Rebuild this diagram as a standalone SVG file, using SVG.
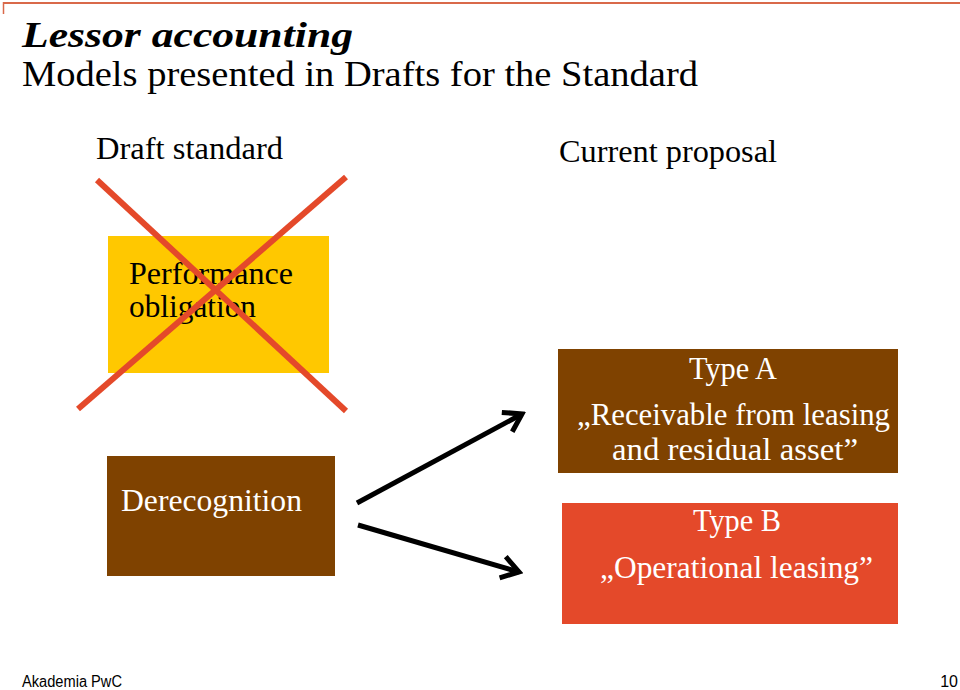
<svg xmlns="http://www.w3.org/2000/svg" width="960" height="690" viewBox="0 0 960 690">
  <defs>
    <style>
      .serif { font-family: "Liberation Serif", "DejaVu Serif", serif; }
      .title { font-size: 35px; font-weight: bold; font-style: italic; fill: #000; }
      .sub { font-size: 35px; fill: #000; }
      .head { font-size: 31px; fill: #000; }
      .lbl { font-size: 31px; }
      .dark { fill: #000; }
      .light { fill: #fff; }
      .foot { font-family: "Liberation Sans", Arial, sans-serif; font-size: 16px; fill: #000; }
      .cross { stroke: #E4492A; stroke-width: 6; stroke-linecap: butt; fill: none; }
      .conn { stroke: #000; stroke-width: 5; fill: none; }
    </style>
    <marker id="chev" markerUnits="userSpaceOnUse" viewBox="-20 -14 24 28" markerWidth="24" markerHeight="28" refX="0" refY="0" orient="auto">
      <path d="M -17,-11 L 0,0 L -17,11" fill="none" stroke="#000" stroke-width="5" stroke-linejoin="miter"/>
    </marker>
  </defs>

  <rect width="960" height="690" fill="#fff"/>

  <!-- top rule -->
  <g id="top-rule">
    <line x1="3" y1="3" x2="960" y2="3" stroke="#D9694A" stroke-width="2"/>
    <line x1="3.5" y1="2" x2="3.5" y2="14" stroke="#D9694A" stroke-width="1.5"/>
  </g>

  <!-- headings -->
  <g id="titles" class="serif">
    <text class="title" x="22" y="47" textLength="331" lengthAdjust="spacingAndGlyphs">Lessor accounting</text>
    <text class="sub" x="22" y="86" textLength="676" lengthAdjust="spacingAndGlyphs">Models presented in Drafts for the Standard</text>
    <text class="head" x="96" y="159" textLength="187" lengthAdjust="spacingAndGlyphs">Draft standard</text>
    <text class="head" x="559" y="162" textLength="218" lengthAdjust="spacingAndGlyphs">Current proposal</text>
  </g>

  <!-- nodes -->
  <g id="node-performance">
    <rect x="108" y="236" width="221" height="137" fill="#FFC800"/>
    <text class="serif lbl dark" x="129" y="284" textLength="164" lengthAdjust="spacingAndGlyphs">Performance</text>
    <text class="serif lbl dark" x="129" y="317" textLength="127" lengthAdjust="spacingAndGlyphs">obligation</text>
  </g>

  <g id="cross-out">
    <line class="cross" x1="97" y1="180" x2="346" y2="411"/>
    <line class="cross" x1="346" y1="177" x2="78" y2="409"/>
  </g>

  <g id="node-derecognition">
    <rect x="107" y="456" width="228" height="120" fill="#7F4200"/>
    <text class="serif lbl light" x="121" y="511" textLength="181" lengthAdjust="spacingAndGlyphs">Derecognition</text>
  </g>

  <g id="node-typeA">
    <rect x="558" y="349" width="340" height="124" fill="#7F4200"/>
    <text class="serif lbl light" x="689" y="379" textLength="88" lengthAdjust="spacingAndGlyphs">Type A</text>
    <text class="serif lbl light" x="577" y="425" textLength="313" lengthAdjust="spacingAndGlyphs">„Receivable from leasing</text>
    <text class="serif lbl light" x="612" y="460" textLength="246" lengthAdjust="spacingAndGlyphs">and residual asset”</text>
  </g>

  <g id="node-typeB">
    <rect x="562" y="503" width="336" height="121" fill="#E4492A"/>
    <text class="serif lbl light" x="693" y="531" textLength="88" lengthAdjust="spacingAndGlyphs">Type B</text>
    <text class="serif lbl light" x="600" y="578" textLength="273" lengthAdjust="spacingAndGlyphs">„Operational leasing”</text>
  </g>

  <!-- connectors -->
  <g id="connectors">
    <line class="conn" x1="357" y1="503" x2="522" y2="414" marker-end="url(#chev)"/>
    <line class="conn" x1="358" y1="525" x2="519" y2="572" marker-end="url(#chev)"/>
  </g>

  <!-- footer -->
  <g id="footer">
    <text class="foot" x="22" y="687" textLength="100" lengthAdjust="spacingAndGlyphs">Akademia PwC</text>
    <text class="foot" x="958" y="687" text-anchor="end">10</text>
  </g>
</svg>
